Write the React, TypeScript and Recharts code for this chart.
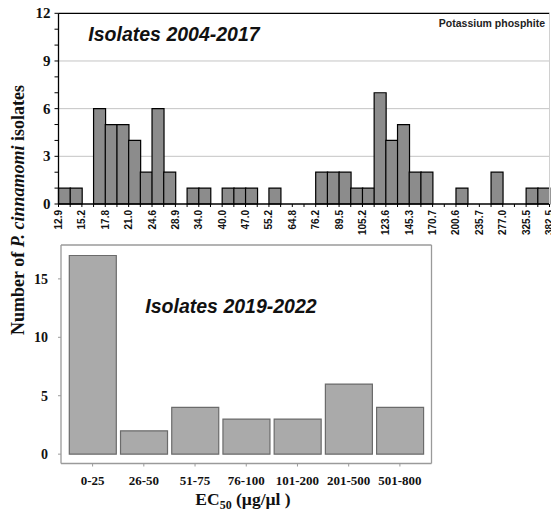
import React from "react";
import {
  Bar,
  BarChart,
  CartesianGrid,
  ReferenceLine,
  XAxis,
  YAxis,
} from "recharts";

// top panel: potassium phosphite EC50 bins (2004-2017), labels are bin edges every 2 bins
const binEdges = [
  "12.9", "15.2", "17.8", "21.0", "24.6", "28.9", "34.0", "40.0", "47.0", "55.2", "64.8",
  "76.2", "89.5", "105.2", "123.6", "145.3", "170.7", "200.6", "235.7", "277.0", "325.5", "382.5",
];
const binCounts = [
  1, 1, 0, 6, 5, 5, 4, 2, 6, 2,
  0, 1, 1, 0, 1, 1, 1, 0, 1, 0,
  0, 0, 2, 2, 2, 1, 1, 7, 4, 5,
  2, 2, 0, 0, 1, 0, 0, 2, 0, 0,
  1, 1,
];
const topTicks = [0, 1, 2, 3, 4, 5, 6, 7, 8, 9, 10, 11, 12];

// bottom panel: 2019-2022 isolates
const ecRanges = ["0-25", "26-50", "51-75", "76-100", "101-200", "201-500", "501-800"];
const ecCounts = [17, 2, 4, 3, 3, 6, 4];
const bottomTicks = [0, 5, 10, 15];

const SERIF = '"Liberation Serif", "Times New Roman", serif';
const SANS = '"Liberation Sans", Arial, sans-serif';

const TOP_W = 553;
const TOP_LEFT = 58.5;
const TOP_RIGHT = 2.5;
const BW = (TOP_W - TOP_LEFT - TOP_RIGHT - 1) / binCounts.length;

const topData = binCounts.map((count, bin) => ({ bin, count }));
const bottomData = ecRanges.map((range, i) => ({ range, count: ecCounts[i] }));

function BinTick(props: any) {
  const { x, y, payload } = props;
  const i = Number(payload.value);
  const left = x - BW / 2;
  const right = x + BW / 2;
  const label = (px: number, text: string) => (
    <text
      transform={`translate(${px},${y + 6}) rotate(-90)`}
      textAnchor="end"
      dominantBaseline="central"
      fontFamily={SANS}
      fontWeight="bold"
      fontSize={10}
      fill="#111"
    >
      {text}
    </text>
  );
  const last = i === binCounts.length - 1;
  return (
    <g>
      <line x1={left} x2={left} y1={y} y2={y + 3} stroke="#000" />
      {i % 2 === 0 && label(left, binEdges[i / 2])}
      {last && <line x1={right} x2={right} y1={y} y2={y + 3} stroke="#000" />}
      {last && label(right, binEdges[binEdges.length - 1])}
    </g>
  );
}

function CountTick(props: any) {
  const { x, y, payload } = props;
  if (payload.value % 3 !== 0) return <g />;
  return (
    <text
      x={x}
      y={y}
      textAnchor="end"
      dominantBaseline="central"
      fontFamily={SERIF}
      fontWeight="bold"
      fontSize={15}
      fill="#111"
    >
      {payload.value}
    </text>
  );
}

export default function App() {
  return (
    <div
      style={{
        position: "fixed",
        left: 0,
        top: 0,
        width: 551,
        height: 512,
        overflow: "hidden",
        background: "#fff",
      }}
    >
      <div style={{ position: "absolute", left: 0, top: 0 }}>
        <BarChart
          width={TOP_W}
          height={240}
          data={topData}
          margin={{ top: 13.3, right: TOP_RIGHT, bottom: 0, left: 0 }}
          barCategoryGap={0}
          barGap={0}
        >
          <CartesianGrid vertical={false} horizontalValues={[3, 6, 9]} stroke="#c4c4c4" />
          <XAxis
            dataKey="bin"
            interval={0}
            height={36}
            tickSize={0}
            tickMargin={0}
            tickLine={false}
            axisLine={{ stroke: "#000", strokeWidth: 1.3 }}
            tick={<BinTick />}
          />
          <YAxis
            domain={[0, 12]}
            ticks={topTicks}
            interval={0}
            width={TOP_LEFT}
            tickSize={4}
            tickMargin={4}
            axisLine={{ stroke: "#000", strokeWidth: 1.3 }}
            tickLine={{ stroke: "#000" }}
            tick={<CountTick />}
          />
          <YAxis
            yAxisId="edge"
            orientation="right"
            width={1}
            tick={false}
            tickLine={false}
            axisLine={{ stroke: "#d0d0d0" }}
          />
          <ReferenceLine y={12} stroke="#000" strokeWidth={1.3} />
          <Bar
            dataKey="count"
            fill="#8c8c8c"
            stroke="#000"
            strokeWidth={1.2}
            isAnimationActive={false}
          />
        </BarChart>
      </div>

      <div style={{ position: "absolute", left: 0, top: 240 }}>
        <BarChart
          width={440}
          height={272}
          data={bottomData}
          margin={{ top: 5, right: 7.5, bottom: 0, left: 0 }}
          barCategoryGap="4.5%"
        >
          <XAxis
            dataKey="range"
            interval={0}
            height={48.5}
            padding={{ left: 6, right: 6 }}
            tickSize={3}
            tickMargin={9}
            axisLine={{ stroke: "#9a9a9a", strokeWidth: 1.3 }}
            tickLine={{ stroke: "#9a9a9a" }}
            tick={{ fontFamily: SERIF, fontWeight: "bold", fontSize: 13, fill: "#111" }}
          />
          <YAxis
            domain={[-0.8, 17.9]}
            allowDataOverflow
            ticks={bottomTicks}
            interval={0}
            width={61}
            tickSize={3}
            tickMargin={10}
            axisLine={{ stroke: "#9a9a9a", strokeWidth: 1.3 }}
            tickLine={{ stroke: "#9a9a9a" }}
            tick={{ fontFamily: SERIF, fontWeight: "bold", fontSize: 14, fill: "#111" }}
          />
          <YAxis
            yAxisId="edge"
            orientation="right"
            width={1}
            tick={false}
            tickLine={false}
            axisLine={{ stroke: "#9a9a9a", strokeWidth: 1.3 }}
          />
          <ReferenceLine y={17.9} stroke="#9a9a9a" strokeWidth={1.3} />
          <Bar
            dataKey="count"
            fill="#aaaaaa"
            stroke="#6b6b6b"
            strokeWidth={1.2}
            isAnimationActive={false}
          />
        </BarChart>
      </div>

      <svg
        width={551}
        height={512}
        style={{ position: "absolute", left: 0, top: 0, pointerEvents: "none" }}
      >
        <text
          transform="translate(24,210) rotate(-90)"
          textAnchor="middle"
          fontFamily={SERIF}
          fontWeight="bold"
          fontSize={18}
          fill="#111"
        >
          Number of <tspan fontStyle="italic">P. cinnamomi</tspan> isolates
        </text>
        <text
          x={174}
          y={40.5}
          textAnchor="middle"
          fontFamily={SANS}
          fontWeight="bold"
          fontStyle="italic"
          fontSize={19.5}
          fill="#111"
        >
          Isolates 2004-2017
        </text>
        <text
          x={545}
          y={27}
          textAnchor="end"
          fontFamily={SANS}
          fontWeight="bold"
          fontSize={10.5}
          fill="#222"
        >
          Potassium phosphite
        </text>
        <text
          x={231}
          y={313}
          textAnchor="middle"
          fontFamily={SANS}
          fontWeight="bold"
          fontStyle="italic"
          fontSize={19.5}
          fill="#111"
        >
          Isolates 2019-2022
        </text>
        <text
          x={243}
          y={505}
          textAnchor="middle"
          fontFamily={SERIF}
          fontWeight="bold"
          fontSize={17.5}
          fill="#111"
        >
          EC
          <tspan fontSize={12} dy={3.5}>
            50
          </tspan>
          <tspan dy={-3.5}> (µg/µl )</tspan>
        </text>
      </svg>
    </div>
  );
}
